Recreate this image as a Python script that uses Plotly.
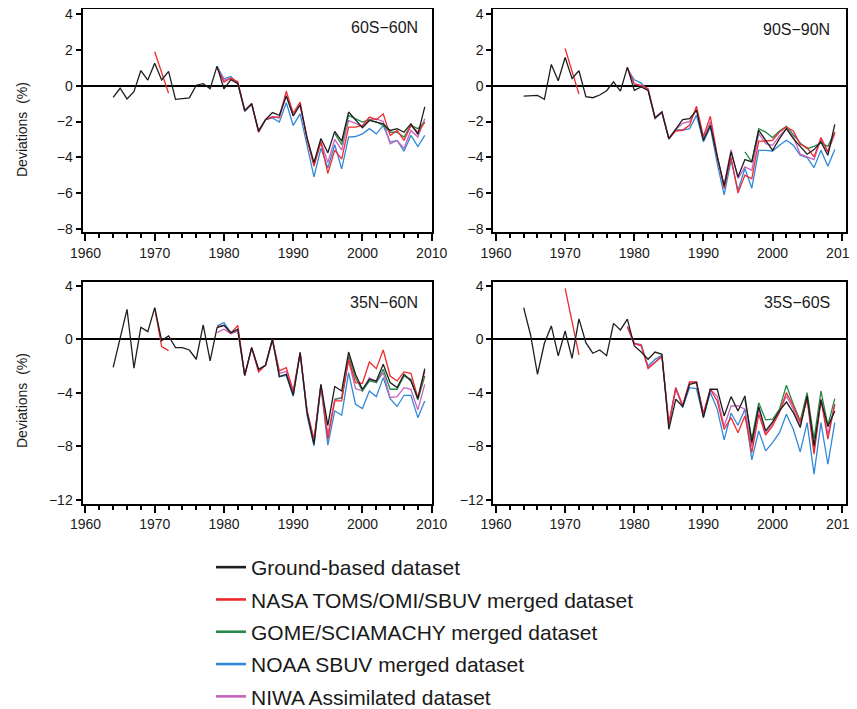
import plotly.graph_objects as go

W, H = 857, 709
OFF = 8  # browser body margin

# ---------------- data ----------------
years_ground = list(range(1964, 2010))
years_sat = list(range(1979, 2010))
years_gome = list(range(1996, 2010))
years_buv = [1970, 1971, 1972]

panel_titles = ["60S\u221260N", "90S\u221290N", "35N\u221260N", "35S\u221260S"]
series_names = ["Ground-based dataset", "NASA TOMS/OMI/SBUV merged dataset",
                "GOME/SCIAMACHY merged dataset", "NOAA SBUV merged dataset",
                "NIWA Assimilated dataset"]

# 60S-60N
p1_ground = [-0.65, -0.14, -0.74, -0.33, 0.85, 0.32, 1.26, 0.32, 0.8, -0.76,
             -0.72, -0.68, 0.03, 0.12, -0.16, 1.1, -0.18, 0.34, 0.12, -1.38,
             -1.0, -2.55, -1.9, -1.5, -1.65, -0.58, -1.68, -1.05, -2.9, -4.3,
             -2.95, -3.75, -2.55, -3.1, -1.47, -1.94, -2.35, -1.94, -2.03, -2.13,
             -2.5, -2.4, -2.6, -2.13, -2.72, -1.18]
p1_nasa_buv = [1.9, 0.75, -0.42]
p1_nasa = [1.0, 0.2, 0.42, 0.22, -1.4, -1.0, -2.6, -1.9, -1.75, -1.75, -0.3,
           -1.53, -0.91, -3.0, -4.5, -3.15, -4.9, -3.6, -4.1, -2.31, -2.31,
           -2.22, -1.75, -1.9, -1.57, -2.78, -2.5, -3.06, -2.22, -2.6, -2.05]
p1_noaa = [1.08, 0.39, 0.52, 0.1, -1.45, -1.05, -2.5, -1.9, -1.8, -2.03, -0.95,
           -2.22, -1.57, -3.3, -5.1, -3.5, -4.6, -3.3, -4.65, -2.87, -2.84,
           -2.69, -2.4, -2.69, -2.22, -3.15, -3.06, -3.66, -2.78, -3.4, -2.78]
p1_niwa = [1.05, 0.3, 0.45, 0.18, -1.4, -1.0, -2.55, -1.9, -1.72, -1.8, -0.5,
           -1.7, -1.1, -3.0, -4.4, -3.1, -4.3, -3.0, -3.6, -1.95, -2.1,
           -2.3, -1.9, -1.85, -2.0, -3.25, -3.06, -3.5, -2.5, -2.87, -1.85]
p1_gome = [-2.66, -3.3, -1.66, -1.85, -2.03, -1.9, -2.03, -2.22, -2.6, -2.6,
           -2.87, -2.22, -2.4, -2.03]

# 90S-90N
p2_ground = [-0.58, -0.58, -0.54, -0.76, 1.19, 0.28, 1.58, 0.41, 0.84, -0.61,
             -0.67, -0.52, -0.28, 0.22, -0.3, 1.04, -0.26, -0.07, -0.26, -1.79,
             -1.47, -2.96, -2.46, -1.9, -1.84, -1.38, -3.05, -2.21, -3.96, -5.6,
             -3.7, -5.1, -4.13, -4.26, -2.49, -3.05, -3.61, -2.96, -2.4, -2.96,
             -3.42, -3.83, -3.57, -3.14, -3.89, -2.16]
p2_nasa_buv = [2.08, 0.8, -0.47]
p2_nasa = [1.0, 0.11, 0.02, -0.17, -1.79, -1.47, -2.96, -2.53, -2.49, -2.2, -1.15,
           -2.83, -1.71, -3.9, -5.75, -4.0, -6.0, -5.0, -5.2, -3.1, -3.09,
           -3.05, -2.59, -2.31, -2.53, -3.27, -3.46, -3.98, -2.9, -3.7, -2.59]
p2_noaa = [0.95, 0.33, 0.15, -0.26, -1.85, -1.5, -3.0, -2.46, -2.49, -2.4, -1.66,
           -3.14, -2.3, -4.35, -6.1, -4.17, -5.85, -4.63, -5.73, -3.61, -3.61,
           -3.65, -3.33, -3.05, -3.33, -3.89, -4.02, -4.58, -3.61, -4.5, -3.57]
p2_niwa = [1.0, 0.1, 0.0, -0.2, -1.8, -1.45, -2.95, -2.45, -2.1, -2.0, -1.3,
           -2.95, -2.0, -4.0, -5.55, -3.57, -5.2, -4.54, -4.73, -2.68, -3.24,
           -3.33, -2.8, -2.4, -2.85, -3.83, -3.98, -4.13, -3.0, -3.7, -2.68]
p2_gome = [-3.7, -4.26, -2.4, -2.59, -2.9, -2.53, -2.27, -2.72, -3.2, -3.52,
           -3.39, -3.2, -3.39, -2.59]

# 35N-60N
p3_ground = [-2.09, 0.1, 2.24, -2.16, 0.9, 0.57, 2.36, -0.1, 0.25, -0.62,
             -0.62, -0.8, -1.49, 1.07, -1.62, 0.87, 1.04, 0.5, 0.75, -2.69,
             -0.62, -2.24, -1.94, 0.0, -2.79, -2.61, -4.18, -1.0, -5.47, -7.84,
             -3.36, -6.42, -3.53, -3.86, -0.95, -2.61, -3.73, -2.99, -3.11, -1.87,
             -3.23, -3.61, -2.61, -3.11, -4.43, -2.19]
p3_nasa_buv = [2.3, -0.55, -0.85]
p3_nasa = [0.95, 1.04, 0.45, 1.04, -2.69, -0.62, -2.44, -1.94, 0.0, -2.36, -2.11,
           -3.86, -1.0, -5.3, -7.46, -3.4, -7.46, -4.6, -4.6, -1.49, -3.23,
           -3.28, -1.69, -2.19, -0.8, -2.74, -3.11, -2.44, -2.54, -4.35, -2.36]
p3_noaa = [1.0, 1.24, 0.5, 0.62, -2.69, -0.62, -2.3, -1.94, 0.0, -2.79, -2.7,
           -4.25, -1.0, -5.7, -7.96, -3.5, -7.9, -5.35, -5.67, -2.49, -4.85,
           -5.17, -3.86, -4.28, -2.86, -4.43, -5.02, -4.18, -4.18, -5.85, -4.6]
p3_niwa = [0.5, 0.75, 0.42, 0.6, -2.7, -0.65, -2.3, -1.95, -0.05, -2.55, -2.4,
           -4.0, -1.0, -5.4, -7.6, -3.4, -7.1, -4.48, -4.4, -1.6, -3.68,
           -3.86, -2.86, -3.23, -2.49, -4.35, -4.28, -3.61, -3.73, -5.27, -3.36]
p3_gome = [-4.48, -4.35, -1.24, -2.86, -3.86, -3.11, -3.23, -2.24, -3.73, -3.73,
           -2.74, -2.99, -4.53, -2.74]

# 35S-60S
p4_ground = [2.36, 0.32, -2.61, -0.3, 1.0, -1.24, 0.62, -1.42, 1.52, -0.25,
             -1.04, -0.8, -1.22, 1.19, 0.7, 1.5, -0.5, -0.95, -1.49, -0.95,
             -1.12, -6.72, -4.48, -5.02, -3.36, -3.23, -5.85, -3.73, -3.73, -5.72,
             -4.28, -5.35, -4.23, -7.71, -5.02, -6.84, -6.17, -5.35, -4.68, -5.47,
             -6.59, -4.23, -7.96, -4.53, -6.52, -5.35]
p4_nasa_buv = [3.8, 1.3, -1.17]
p4_nasa = [0.95, -0.3, -0.45, -2.19, -1.74, -1.29, -6.34, -3.61, -4.93, -3.18, -3.18,
           -5.52, -3.73, -4.6, -6.72, -5.85, -6.97, -5.72, -8.46, -5.6, -7.16,
           -6.47, -5.47, -3.98, -4.98, -6.22, -4.48, -8.58, -4.48, -7.46, -4.85]
p4_noaa = [0.95, -0.3, -0.4, -2.0, -1.5, -1.2, -6.3, -3.61, -5.1, -3.61, -3.68,
           -5.8, -3.98, -5.22, -7.51, -5.52, -6.42, -5.22, -9.0, -6.84, -8.33,
           -7.71, -6.97, -5.6, -6.72, -8.41, -6.22, -10.07, -6.22, -9.33, -6.22]
p4_niwa = [0.9, -0.35, -0.5, -2.1, -1.7, -1.25, -6.4, -3.75, -4.95, -3.2, -3.2,
           -5.6, -3.73, -4.25, -6.5, -4.98, -4.95, -5.22, -8.0, -5.22, -7.0,
           -6.3, -5.35, -4.23, -5.22, -6.47, -4.35, -8.33, -4.48, -7.1, -4.85]
p4_gome = [-4.5, -7.46, -4.73, -6.02, -5.97, -5.22, -3.43, -4.85, -6.09, -3.98,
           -7.46, -3.86, -6.42, -4.43]

top_yticks = [4, 2, 0, -2, -4, -6, -8]
bottom_yticks = [4, 0, -4, -8, -12]
xticks = [1960, 1970, 1980, 1990, 2000, 2010]

# ---------------- styling ----------------
FONT = "Liberation Sans, Arial, Helvetica, sans-serif"
C_GROUND = "#1e1e1e"
C_NASA = "#ef2b2f"
C_GOME = "#24894a"
C_NOAA = "#3088d8"
C_NIWA = "#c762bd"
colors = [C_GROUND, C_NASA, C_GOME, C_NOAA, C_NIWA]
LW = 1.3


def px_x(p):
    return (p - OFF) / W


def px_y(p):
    return 1 - (p - OFF) / H


panels = [
    dict(g=p1_ground, buv=p1_nasa_buv, nasa=p1_nasa, noaa=p1_noaa, niwa=p1_niwa, gome=p1_gome),
    dict(g=p2_ground, buv=p2_nasa_buv, nasa=p2_nasa, noaa=p2_noaa, niwa=p2_niwa, gome=p2_gome),
    dict(g=p3_ground, buv=p3_nasa_buv, nasa=p3_nasa, noaa=p3_noaa, niwa=p3_niwa, gome=p3_gome),
    dict(g=p4_ground, buv=p4_nasa_buv, nasa=p4_nasa, noaa=p4_noaa, niwa=p4_niwa, gome=p4_gome),
]

# pixel boxes on screen (left, right, top, bottom)
boxes = [(82.5, 431.7, 8.5, 232.0), (493.3, 845.5, 8.5, 232.0),
         (82.5, 431.7, 281.7, 503.5), (493.3, 845.5, 281.7, 503.5)]
xranges = [[1959.57, 2010.0], [1959.61, 2010.55], [1959.57, 2010.0], [1959.61, 2010.55]]
yranges = [[-8.18, 4.32], [-8.18, 4.32], [-12.26, 4.30], [-12.26, 4.30]]
yticks_list = [top_yticks, top_yticks, bottom_yticks, bottom_yticks]

fig = go.Figure()

# legend-only entries
for name, col in zip(series_names, colors):
    fig.add_trace(go.Scatter(x=[None], y=[None], mode="lines", name=name,
                             line=dict(color=col, width=2.6), showlegend=True,
                             legendgroup=name, xaxis="x", yaxis="y",
                             hoverinfo="skip"))

for i, p in enumerate(panels):
    xa = "x" if i == 0 else f"x{i+1}"
    ya = "y" if i == 0 else f"y{i+1}"
    common = dict(mode="lines", xaxis=xa, yaxis=ya, showlegend=False)
    fig.add_trace(go.Scatter(x=years_sat, y=p["noaa"], line=dict(color=C_NOAA, width=LW), **common))
    fig.add_trace(go.Scatter(x=years_sat, y=p["niwa"], line=dict(color=C_NIWA, width=LW), **common))
    fig.add_trace(go.Scatter(x=years_gome, y=p["gome"], line=dict(color=C_GOME, width=LW), **common))
    fig.add_trace(go.Scatter(x=years_sat, y=p["nasa"], line=dict(color=C_NASA, width=LW), **common))
    fig.add_trace(go.Scatter(x=years_buv, y=p["buv"], line=dict(color=C_NASA, width=LW), **common))
    fig.add_trace(go.Scatter(x=years_ground, y=p["g"], line=dict(color=C_GROUND, width=LW), **common))

layout = dict(
    width=W, height=H,
    margin=dict(l=0, r=0, t=0, b=0, autoexpand=False),
    paper_bgcolor="white", plot_bgcolor="white",
    font=dict(family=FONT, size=14, color="#1a1a1a"),
    showlegend=True,
    legend=dict(x=px_x(211), y=px_y(547), xanchor="left", yanchor="top",
                font=dict(size=21, family=FONT, color="#1a1a1a"),
                traceorder="grouped", tracegroupgap=2,
                bgcolor="rgba(0,0,0,0)", itemwidth=30),
)

for i in range(4):
    l, r, t, b = boxes[i]
    xk = "xaxis" if i == 0 else f"xaxis{i+1}"
    yk = "yaxis" if i == 0 else f"yaxis{i+1}"
    ya = "y" if i == 0 else f"y{i+1}"
    xa = "x" if i == 0 else f"x{i+1}"
    layout[xk] = dict(
        domain=[px_x(l), px_x(r)], anchor=ya, range=xranges[i], automargin=False,
        showgrid=False, zeroline=False, showline=True, mirror=True,
        linecolor="black", linewidth=2, ticklabeloverflow="allow",
        tickmode="array", tickvals=xticks, ticks="outside", ticklen=7,
        tickwidth=2, tickcolor="black",
        tickfont=dict(size=14, family=FONT, color="#1a1a1a"),
        minor=dict(tickmode="linear", tick0=1960, dtick=2, ticks="outside",
                   ticklen=4, tickwidth=1.6, tickcolor="black", showgrid=False),
    )
    layout[yk] = dict(
        domain=[px_y(b), px_y(t)], anchor=xa, range=yranges[i], automargin=False,
        showgrid=False, zeroline=True, zerolinecolor="black", zerolinewidth=1.6,
        showline=True, mirror=True, linecolor="black", linewidth=2,
        ticklabeloverflow="allow",
        tickmode="array", tickvals=yticks_list[i], ticks="outside", ticklen=5,
        tickwidth=2, tickcolor="black",
        tickfont=dict(size=14, family=FONT, color="#1a1a1a"),
    )

fig.update_layout(**layout)

# panel titles
title_pos = [(420, 28), (832, 30), (420, 302), (832, 302)]
for txt, (tx, ty) in zip(panel_titles, title_pos):
    fig.add_annotation(text=txt, x=px_x(tx), y=px_y(ty), xref="paper", yref="paper",
                       xanchor="right", yanchor="middle", showarrow=False,
                       font=dict(size=16, family=FONT, color="#1a1a1a"))

# y-axis labels
for cy in (130, 401):
    fig.add_annotation(text="Deviations  (%)", x=px_x(22), y=px_y(cy),
                       xref="paper", yref="paper", xanchor="center", yanchor="middle",
                       textangle=-90, showarrow=False,
                       font=dict(size=14, family=FONT, color="#1a1a1a"))

fig.write_html("out.html")
